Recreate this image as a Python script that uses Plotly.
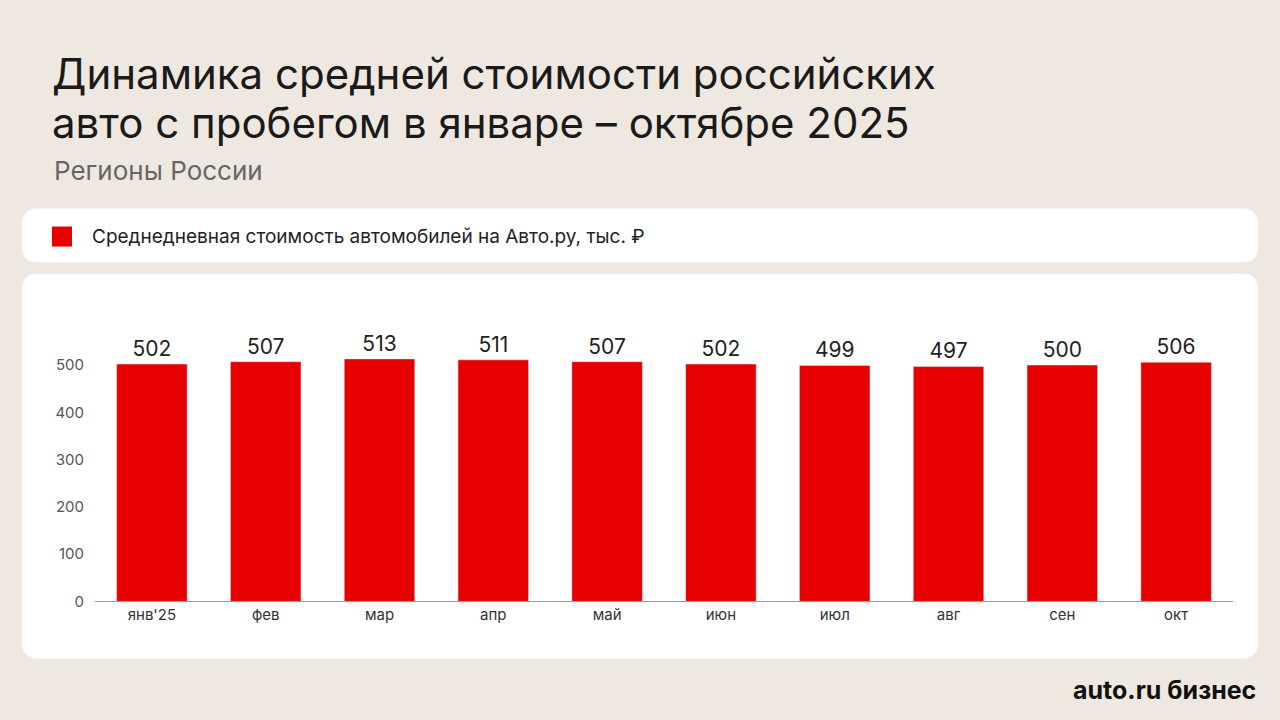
import plotly.graph_objects as go

months = ["янв'25", "фев", "мар", "апр", "май", "июн", "июл", "авг", "сен", "окт"]
prices = [502, 507, 513, 511, 507, 502, 499, 497, 500, 506]

W, H = 1280, 720
BG = "#EFE8E0"
RED = "#E60000"
FONT = "Inter, Roboto, sans-serif"
YSCALE = 1.015  # correction for the slight vertical squeeze seen in the render


def fy(y):
    return 1 - (y * YSCALE - 1) / H


def rounded(x0, y0, x1, y1, r=16):
    def p(x, y):
        return f"{x / W:.5f},{fy(y):.5f}"
    path = (f"M {p(x0 + r, y0)} L {p(x1 - r, y0)} Q {p(x1, y0)} {p(x1, y0 + r)} "
            f"L {p(x1, y1 - r)} Q {p(x1, y1)} {p(x1 - r, y1)} "
            f"L {p(x0 + r, y1)} Q {p(x0, y1)} {p(x0, y1 - r)} "
            f"L {p(x0, y0 + r)} Q {p(x0, y0)} {p(x0 + r, y0)} Z")
    return dict(type="path", xref="paper", yref="paper", path=path,
                fillcolor="white", line=dict(width=0), layer="below")


def label(text, x, y, size, color, anchor="left"):
    return dict(text=text, x=x / W, y=fy(y), xref="paper", yref="paper",
                xanchor=anchor, yanchor="middle", showarrow=False,
                font=dict(size=size, color=color, family=FONT))


fig = go.Figure(go.Bar(
    x=months, y=prices, marker_color=RED, text=prices, textposition="outside",
    textfont=dict(size=21, color="#222", family=FONT), cliponaxis=False,
    showlegend=False,
))

fig.update_layout(
    width=W, height=H, paper_bgcolor=BG, plot_bgcolor="white",
    margin=dict(l=0, r=0, t=0, b=0), bargap=0.38,
    font=dict(family=FONT, color="#333"),
    xaxis=dict(domain=[95 / W, 1233 / W], showline=True, linecolor="#999",
               tickfont=dict(size=15, color="#333"), ticks="", showgrid=False),
    yaxis=dict(domain=[fy(601), fy(318)], range=[0, 600], showgrid=False,
               tickvals=[0, 100, 200, 300, 400, 500], tickfont=dict(size=15, color="#555"),
               zeroline=False, ticklabelstandoff=10),
    shapes=[rounded(22, 209, 1258, 263), rounded(22, 274, 1258, 658),
            dict(type="rect", xref="paper", yref="paper", x0=52 / W, y0=fy(247),
                 x1=72 / W, y1=fy(227), fillcolor=RED, line=dict(width=0))],
    annotations=[
        label("Динамика средней стоимости российских", 50, 74, 42, "#1a1a1a"),
        label("авто с пробегом в январе – октябре 2025", 50, 123, 42, "#1a1a1a"),
        label("Регионы России", 52, 171, 26, "#666"),
        label("Среднедневная стоимость автомобилей на Авто.ру, тыс. ₽", 90, 237, 19, "#222"),
        label("<b>auto.ru бизнес</b>", 1258, 689, 25, "#111", anchor="right"),
    ],
)

fig.write_html("out.html", config={"displayModeBar": False},
               post_script="document.body.style.margin='0';")
